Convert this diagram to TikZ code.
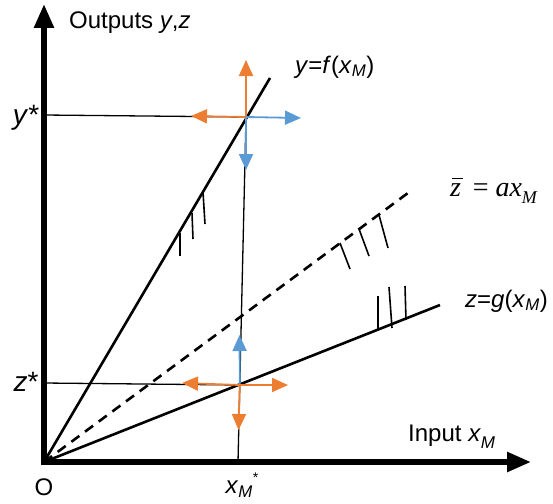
\documentclass[tikz,border=0pt]{standalone}
\usepackage{fontspec}
\setmainfont{Liberation Sans}
\newfontfamily\serifm{Liberation Serif}
\usetikzlibrary{arrows.meta}
\definecolor{orng}{RGB}{237,125,49}
\definecolor{blu}{RGB}{91,155,213}
\tikzset{
  axisline/.style={line width=5.5pt,-{Triangle[length=24pt,width=19pt]}},
  mainline/.style={line width=2.6pt},
  thinline/.style={line width=1.3pt},
  tickline/.style={line width=1.6pt},
  oarrow/.style={orng,line width=1.8pt,-{Triangle[length=16pt,width=14pt]}},
  barrow/.style={blu,line width=1.8pt,-{Triangle[length=16pt,width=14pt]}},
  lbl/.style={inner sep=0pt,font=\fontsize{24}{28}\selectfont},
  biglbl/.style={inner sep=0pt,font=\fontsize{28}{32}\selectfont},
}
\begin{document}
\begin{tikzpicture}[x=1pt,y=-1pt]
\useasboundingbox (0,0) rectangle (553,503);
% coordinates
\coordinate (O) at (44,462);
\coordinate (F) at (270,78);
\coordinate (G) at (440,305);
\coordinate (D) at (412,190);
\coordinate (P) at (246,117);
\coordinate (Q) at (239.8,385);
\coordinate (X) at (238,462);
\coordinate (Ys) at (44,115);
\coordinate (Zs) at (44,383);
\coordinate (Ytop) at (44,4);
\coordinate (Xend) at (531,462);
% thin lines
\draw[thinline] (Ys) -- (P);
\draw[thinline] (Zs) -- (Q);
\draw[thinline] (X) -- (P);
% main lines
\draw[mainline] (O) -- (F);
\draw[mainline] (O) -- (G);
\draw[mainline,dash pattern=on 10pt off 7pt] (O) -- (D);
% ticks on f
\coordinate (f1) at (180,233); \coordinate (f1b) at (180,256);
\coordinate (f2) at (192,213); \coordinate (f2b) at (193,239);
\coordinate (f3) at (203,192); \coordinate (f3b) at (205,224);
\draw[tickline] (f1) -- (f1b);
\draw[tickline] (f2) -- (f2b);
\draw[tickline] (f3) -- (f3b);
% ticks on dashed
\coordinate (d1) at (340,243); \coordinate (d1b) at (350,269);
\coordinate (d2) at (359,229); \coordinate (d2b) at (369,256);
\coordinate (d3) at (379,215); \coordinate (d3b) at (388,248);
\draw[tickline] (d1) -- (d1b);
\draw[tickline] (d2) -- (d2b);
\draw[tickline] (d3) -- (d3b);
% ticks on g
\coordinate (g1) at (378,296); \coordinate (g1b) at (378,330);
\coordinate (g2) at (389,287); \coordinate (g2b) at (392,328);
\coordinate (g3) at (405,286); \coordinate (g3b) at (406,320);
\draw[tickline] (g1) -- (g1b);
\draw[tickline] (g2) -- (g2b);
\draw[tickline] (g3) -- (g3b);
% axes
\draw[axisline] (44,464.5) -- (Ytop);
\draw[axisline] (41.5,462) -- (Xend);
% arrows at P
\coordinate (Pu) at (246,60);
\coordinate (Pl) at (191,116);
\coordinate (Pr) at (301,118);
\coordinate (Pd) at (246,170);
\draw[oarrow] (P) -- (Pu);
\draw[oarrow] (P) -- (Pl);
\draw[barrow] (P) -- (Pr);
\draw[barrow] (P) -- (Pd);
% arrows at Q
\coordinate (Qu) at (239.5,335);
\coordinate (Ql) at (182,383);
\coordinate (Qr) at (288,385);
\coordinate (Qd) at (238.5,430);
\draw[barrow] (Q) -- (Qu);
\draw[oarrow] (Q) -- (Ql);
\draw[oarrow] (Q) -- (Qr);
\draw[oarrow] (Q) -- (Qd);
% labels
\node[lbl,anchor=west] (outl) at (69,23) {Outputs \textit{y},\textit{z}};
\node[lbl,anchor=west] (fl) at (295,67) {\textit{y}=\textit{f}(\textit{x}\textsubscript{\textit{M}})};
\node[biglbl,anchor=west] (dl) at (450,191) {\serifm\itshape\rlap{\hspace{0.06em}\raisebox{0.62em}{\rule{0.4em}{1.3pt}}}z\,\upshape{} = \itshape ax\raisebox{-7pt}{\fontsize{18}{20}\selectfont M}};
\node[lbl,anchor=west] (gl) at (465,301) {\textit{z}=\textit{g}(\textit{x}\textsubscript{\textit{M}})};
\node[lbl,anchor=west] (il) at (408,437) {Input \textit{x}\raisebox{-7pt}{\fontsize{17}{19}\selectfont\textit{M}}};
\node[lbl] (ol) at (44,487) {O};
\node[lbl] (xl) at (242,485) {\textit{x}\textsubscript{\textit{M}}\raisebox{11pt}{\fontsize{14}{16}\selectfont *}};
\node[biglbl] (yl) at (26,118) {\textit{y}*};
\node[biglbl] (zl) at (26,382) {\textit{z}*};
\end{tikzpicture}
\end{document}
